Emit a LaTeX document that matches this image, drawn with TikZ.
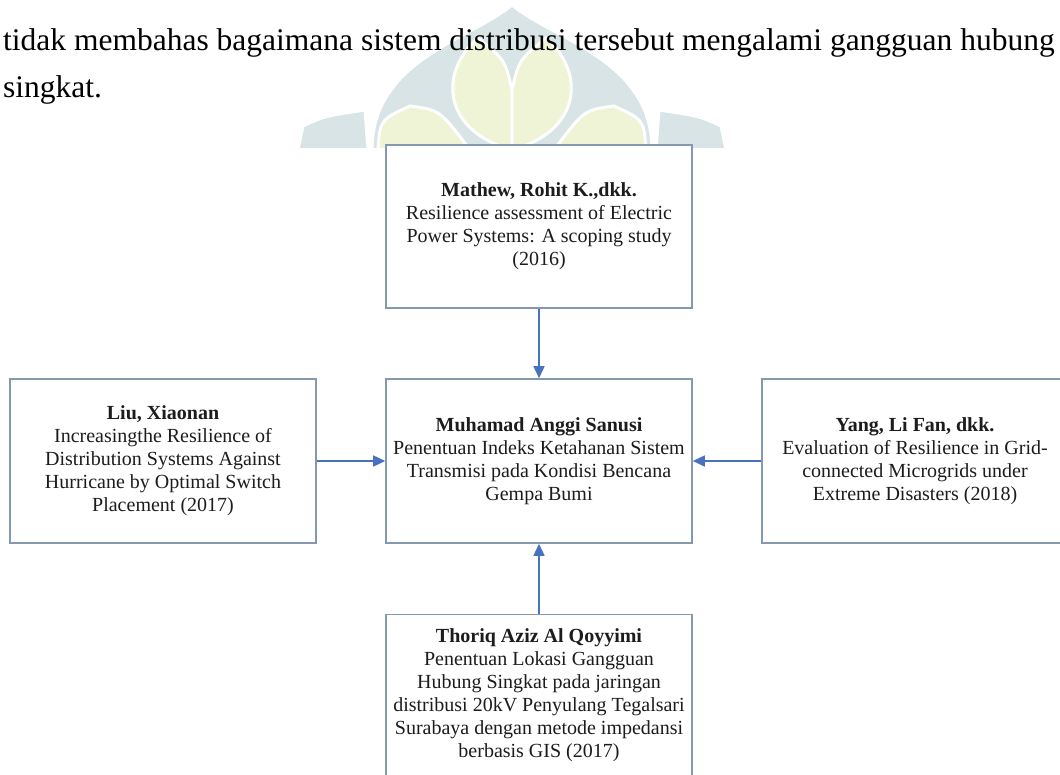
\documentclass[tikz,border=0pt]{standalone}
\usepackage{fontspec}
\setmainfont{Liberation Serif}
\usetikzlibrary{arrows.meta,positioning}
\definecolor{bl}{RGB}{134,152,176}
\definecolor{ar}{RGB}{72,114,190}
\definecolor{tx}{RGB}{28,28,28}
\definecolor{wt}{RGB}{216,228,229}
\definecolor{wy}{RGB}{239,244,214}
\tikzset{box/.style={draw=bl,line width=1.6pt,fill=white,align=center,text=tx,
  minimum width=306pt,inner sep=0pt,font=\fontsize{20}{23}\selectfont},
 arr/.style={draw=ar,line width=1.6pt,-{Triangle[length=12pt,width=11pt]}},
 para/.style={anchor=base west,inner sep=0pt,font=\fontsize{31.5}{45}\selectfont},
 petal/.style={fill=wy,draw=white,line width=3pt},
 leaf/.style={fill=wt,draw=white,line width=3pt}}
\begin{document}
\begin{tikzpicture}[x=1pt,y=-1pt]
\useasboundingbox (0,0) rectangle (1060,774);
% faint logo behind the text
\begin{scope}
\clip (0,0) rectangle (1060,147);
\path[leaf] (372,150) .. controls (372,60) and (470,40) .. (512,5)
  .. controls (554,40) and (652,60) .. (652,150) -- cycle;
\path[leaf] (298,150) -- (303,126) .. controls (325,116) .. (365,110) -- (368,150) -- cycle;
\path[leaf] (726,150) -- (721,126) .. controls (699,116) .. (659,110) -- (656,150) -- cycle;
\path[petal] (378,150) .. controls (380,120) .. (410,106) .. controls (440,110) .. (470,150) -- cycle;
\path[petal] (646,150) .. controls (644,120) .. (614,106) .. controls (584,110) .. (554,150) -- cycle;
\path[petal] (512,150) .. controls (440,130) and (440,70) .. (478,38) .. controls (505,60) .. (512,90) -- cycle;
\path[petal] (512,150) .. controls (584,130) and (584,70) .. (546,38) .. controls (519,60) .. (512,90) -- cycle;
\end{scope}
% running text above the figure
\node[para] (par1) at (3,50) {tidak membahas bagaimana sistem distribusi tersebut mengalami gangguan hubung};
\node[para] (par2) at (3,97) {singkat.};
% boxes
\node[box,minimum height=163pt] (mathew) at (539,226.5)
  {\textbf{Mathew, Rohit K.,dkk.}\\Resilience assessment of Electric\\Power Systems: A scoping study\\(2016)};
\node[box,minimum height=164pt] (sanusi) at (539,461)
  {\textbf{Muhamad Anggi Sanusi}\\Penentuan Indeks Ketahanan Sistem\\Transmisi pada Kondisi Bencana\\Gempa Bumi};
\node[box,minimum height=164pt] (liu) at (163,461)
  {\textbf{Liu, Xiaonan}\\Increasingthe Resilience of\\Distribution Systems Against\\Hurricane by Optimal Switch\\Placement (2017)};
\node[box,minimum height=164pt] (yang) at (915,461)
  {\textbf{Yang, Li Fan, dkk.}\\Evaluation of Resilience in Grid-\\connected Microgrids under\\Extreme Disasters (2018)};
\node[box,minimum height=161pt] (thoriq) at (539,695)
  {\textbf{Thoriq Aziz Al Qoyyimi}\\Penentuan Lokasi Gangguan\\Hubung Singkat pada jaringan\\distribusi 20kV Penyulang Tegalsari\\Surabaya dengan metode impedansi\\berbasis GIS (2017)};
% arrows into the centre box
\draw[arr] (mathew) -- (sanusi);
\draw[arr] (liu) -- (sanusi);
\draw[arr] (yang) -- (sanusi);
\draw[arr] (thoriq) -- (sanusi);
\end{tikzpicture}
\end{document}
